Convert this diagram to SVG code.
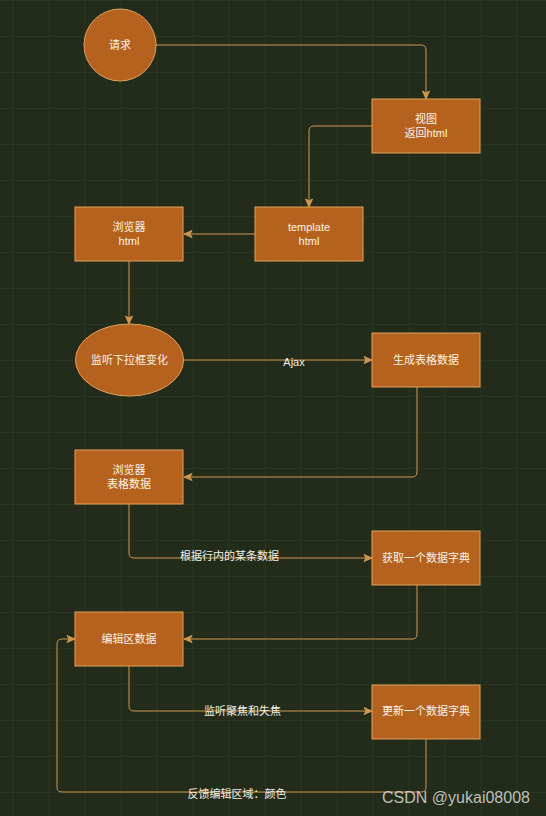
<svg xmlns="http://www.w3.org/2000/svg" width="546" height="816" viewBox="0 0 546 816">
<defs>
<pattern id="grid" width="36" height="36" patternUnits="userSpaceOnUse" x="12.5" y="0">
<path d="M0,0 H36 M0,0 V36" fill="none" stroke="#303f24" stroke-width="1"/>
</pattern>
<marker id="arr" markerWidth="10" markerHeight="10" refX="9" refY="5" orient="auto" markerUnits="userSpaceOnUse">
<path d="M1,1.5 L9,5 L1,8.5 L3,5 Z" fill="#cf9650" stroke="#cf9650" stroke-width="1"/>
</marker>
<style>
.node{fill:#b5621f;stroke:#e2a15c;stroke-width:1}
.t{font-family:"Liberation Sans","Noto Sans CJK SC",sans-serif;font-size:11px;fill:#fbf4e6;text-anchor:middle}
.lbl{font-family:"Liberation Sans","Noto Sans CJK SC",sans-serif;font-size:11px;fill:#f3efe4;text-anchor:middle}
.e{fill:none;stroke:#cf9650;stroke-width:1;marker-end:url(#arr)}
</style>
</defs>
<rect width="546" height="816" fill="#232c1a"/>
<rect width="546" height="816" fill="url(#grid)"/>
<g id="edges">
<path class="e" d="M156,45 H421 Q426,45 426,50 V99"/>
<path class="e" d="M372,126 H314 Q309,126 309,131 V207"/>
<path class="e" d="M255,234 H184"/>
<path class="e" d="M129,261 V324"/>
<path class="e" d="M184,360 H372"/>
<path class="e" d="M417,387 V472 Q417,477 412,477 H184"/>
<path class="e" d="M129,504 V553 Q129,558 134,558 H372"/>
<path class="e" d="M417,585 V634 Q417,639 412,639 H184"/>
<path class="e" d="M129,666 V706 Q129,711 134,711 H372"/>
<path class="e" d="M426,739 V787 Q426,792 421,792 H62 Q57,792 57,787 V644 Q57,639 62,639 H75"/>
<text class="lbl" x="294" y="366">Ajax</text>
<text class="lbl" x="229.5" y="560">根据行内的某条数据</text>
<text class="lbl" x="242.5" y="715">监听聚焦和失焦</text>
<text class="lbl" x="237" y="798">反馈编辑区域：颜色</text>
</g>
<g id="n-request">
<circle class="node" cx="120" cy="45" r="36"/>
<text class="t" x="120" y="49">请求</text>
</g>
<g id="n-view">
<rect class="node" x="372" y="99" width="108" height="54"/>
<text class="t" x="426" y="123">视图</text>
<text class="t" x="426" y="137">返回html</text>
</g>
<g id="n-template">
<rect class="node" x="255" y="207" width="108" height="54"/>
<text class="t" x="309" y="231">template</text>
<text class="t" x="309" y="245">html</text>
</g>
<g id="n-browser-html">
<rect class="node" x="75" y="207" width="108" height="54"/>
<text class="t" x="129" y="231">浏览器</text>
<text class="t" x="129" y="245">html</text>
</g>
<g id="n-listen-select">
<ellipse class="node" cx="129.5" cy="360" rx="54" ry="36"/>
<text class="t" x="129.5" y="364">监听下拉框变化</text>
</g>
<g id="n-gen-table">
<rect class="node" x="372" y="333" width="108" height="54"/>
<text class="t" x="426" y="364">生成表格数据</text>
</g>
<g id="n-browser-table">
<rect class="node" x="75" y="450" width="108" height="54"/>
<text class="t" x="129" y="474">浏览器</text>
<text class="t" x="129" y="488">表格数据</text>
</g>
<g id="n-get-dict">
<rect class="node" x="372" y="531" width="108" height="54"/>
<text class="t" x="426" y="562">获取一个数据字典</text>
</g>
<g id="n-edit">
<rect class="node" x="75" y="612" width="108" height="54"/>
<text class="t" x="129" y="643">编辑区数据</text>
</g>
<g id="n-update-dict">
<rect class="node" x="372" y="685" width="108" height="54"/>
<text class="t" x="426" y="715">更新一个数据字典</text>
</g>
<text x="456" y="803" font-family="Liberation Sans, sans-serif" font-size="16" fill="#dcdcdc" fill-opacity="0.85" text-anchor="middle">CSDN @yukai08008</text>
</svg>
